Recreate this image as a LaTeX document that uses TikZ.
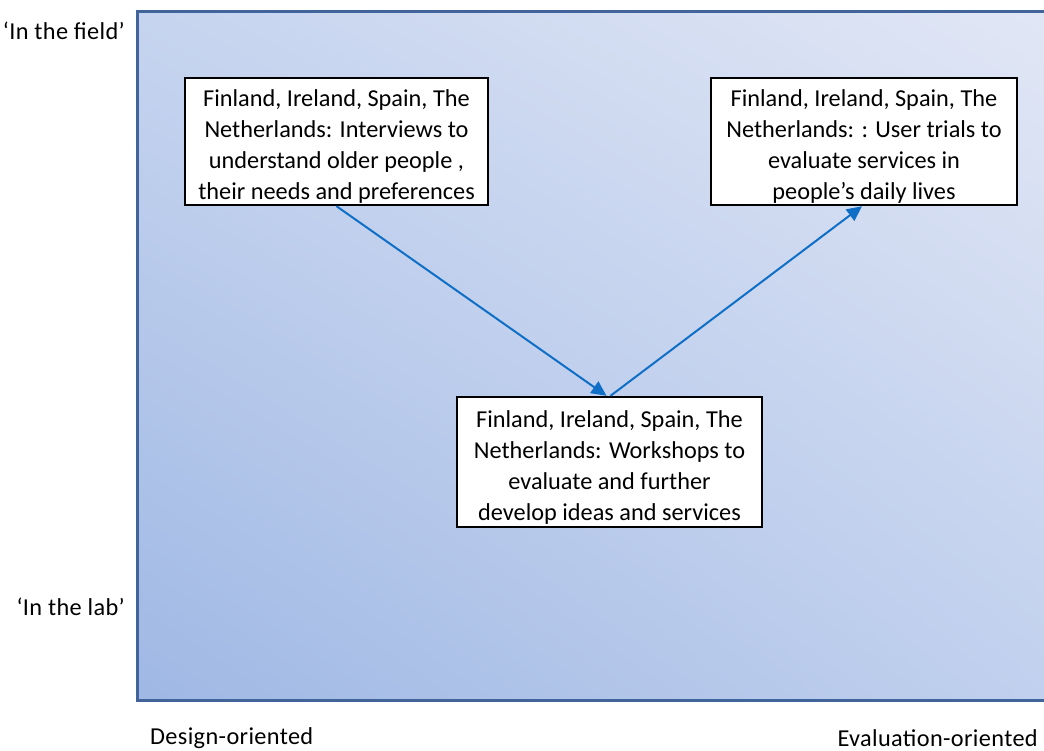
\documentclass[tikz,border=0pt]{standalone}
\usepackage{fontspec}
\setmainfont{Carlito}
\usetikzlibrary{arrows.meta,shadings}
\definecolor{frameblue}{HTML}{41659A}
\definecolor{arrowblue}{HTML}{0F6FC6}
\definecolor{shLL}{HTML}{9FB8E4}
\definecolor{shUL}{HTML}{C6D4EF}
\definecolor{shLR}{HTML}{C2D1EE}
\definecolor{shUR}{HTML}{E2E7F5}
% extra room above the first line of a step box
\newcommand{\boxlead}{\rule{0pt}{27pt}}
\tikzset{
  infobox/.style={draw=black, line width=2.4pt, fill=white, align=center,
    inner sep=0pt, font=\fontsize{24.3}{31}\selectfont},
  axislabel/.style={font=\fontsize{24.3}{28}\selectfont\addfontfeatures{LetterSpace=1.5}, inner sep=0pt},
  flow/.style={draw=arrowblue, line width=2pt, -{Triangle[length=15pt,width=14pt]}}
}
\begin{document}
\begin{tikzpicture}[x=1pt,y=-1pt]
  \useasboundingbox (0,0) rectangle (1044,751);
  \begin{scope}
    \clip (0,0) rectangle (1044,751);
    \shade[lower left=shLL, upper left=shUL, lower right=shLR, upper right=shUR]
      (137,12) rectangle (1080,700);
    \draw[frameblue, line width=3pt] (137,12) rectangle (1080,700);
  \end{scope}

  % process steps
  \node[infobox, minimum width=303pt, minimum height=127pt] (b1) at (336.5,141.5)
    {\boxlead Finland, Ireland, Spain, The\\Netherlands: Interviews to\\understand older people ,\\their needs and preferences};
  \node[infobox, minimum width=306pt, minimum height=127pt] (b2) at (864,141.5)
    {\boxlead Finland, Ireland, Spain, The\\Netherlands: : User trials to\\evaluate services in\\people’s daily lives};
  \node[infobox, minimum width=305pt, minimum height=130pt] (b3) at (609.5,462)
    {\boxlead Finland, Ireland, Spain, The\\Netherlands: Workshops to\\evaluate and further\\develop ideas and services};

  \draw[flow] (b1.south) -- ([xshift=-3pt]b3.north);
  \draw[flow] ([xshift=1pt]b3.north) -- ([xshift=-2pt]b2.south);

  % axis labels
  \node[axislabel, anchor=east] (field) at (125,31) {‘In the field’};
  \node[axislabel, anchor=east] (lab) at (125,607) {‘In the lab’};
  \node[axislabel, anchor=west] (design) at (150,738) {Design-oriented};
  \node[axislabel, anchor=east] (eval) at (1038,738) {Evaluation-oriented};
\end{tikzpicture}
\end{document}
